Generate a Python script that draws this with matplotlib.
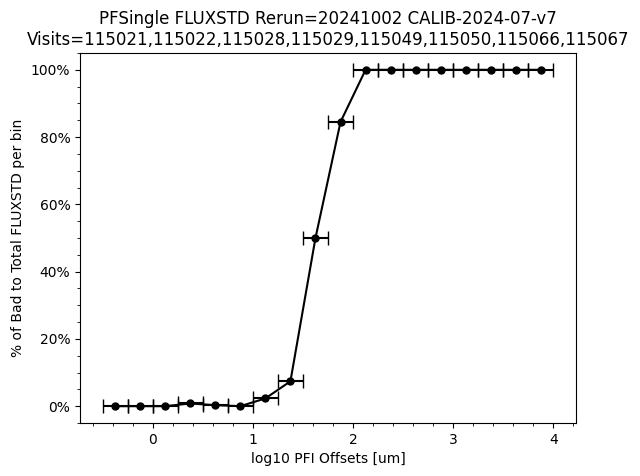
import matplotlib
matplotlib.use("Agg")
import matplotlib.pyplot as plt
import matplotlib.ticker as mticker
import numpy as np

bin_centers = [-0.375, -0.125, 0.125, 0.375, 0.625, 0.875, 1.125, 1.375, 1.625,
               1.875, 2.125, 2.375, 2.625, 2.875, 3.125, 3.375, 3.625, 3.875]
bin_half_width = 0.125
pct_bad = [0.0, 0.0, 0.0, 0.8, 0.3, 0.0, 2.3, 7.4, 50.0,
           84.5, 100.0, 100.0, 100.0, 100.0, 100.0, 100.0, 100.0, 100.0]

fig = plt.figure(figsize=(6.4, 4.76), dpi=100)
ax = fig.add_axes([0.125, 1 - 423 / 476, 0.775, 370 / 476])
ax.errorbar(bin_centers, pct_bad, xerr=bin_half_width, fmt="o-", color="black",
            markersize=5, capsize=5)
ax.yaxis.set_major_formatter(mticker.PercentFormatter(decimals=0))
ax.minorticks_on()
ax.set_xlabel("log10 PFI Offsets [um]")
ax.set_ylabel("% of Bad to Total FLUXSTD per bin")
ax.set_title("PFSingle FLUXSTD Rerun=20241002 CALIB-2024-07-v7\n"
             "Visits=115021,115022,115028,115029,115049,115050,115066,115067")
fig.savefig("out.png")
